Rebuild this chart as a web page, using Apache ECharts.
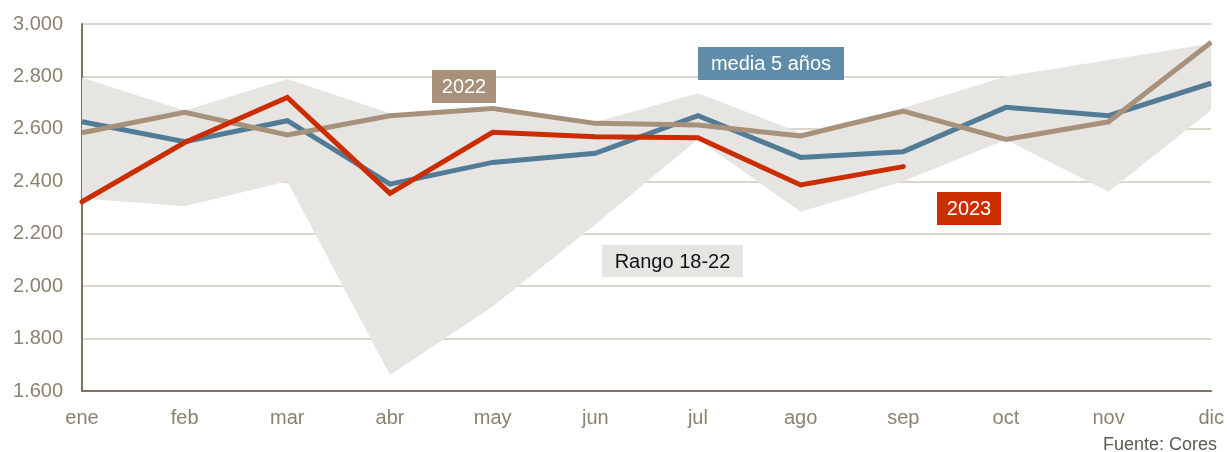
<!DOCTYPE html>
<html>
<head>
<meta charset="utf-8">
<script src="https://cdn.jsdelivr.net/npm/echarts@6/dist/echarts.min.js"></script>
<style>
html,body{margin:0;padding:0;background:#fff;}
#chart{width:1227px;height:452px;}
</style>
</head>
<body>
<div id="chart"></div>
<script>
const months = ['ene','feb','mar','abr','may','jun','jul','ago','sep','oct','nov','dic'];
const rangoMax = [2795,2670,2790,2660,2665,2625,2736,2585,2680,2800,2863,2926];
const rangoMin = [2334,2305,2400,1661,1922,2235,2560,2284,2400,2558,2360,2672];
const media5 = [2627,2551,2631,2389,2472,2507,2650,2491,2513,2682,2650,2774];
const y2022 = [2585,2663,2577,2650,2678,2621,2615,2573,2668,2560,2627,2930];
const y2023 = [2322,2548,2720,2354,2587,2570,2566,2386,2456];
const yTicks = [1600,1800,2000,2200,2400,2600,2800,3000];

const FONT = '"Liberation Sans", Arial, sans-serif';
const bandDiff = rangoMax.map((v,i)=>v-rangoMin[i]);
const fmt = v => String(v).replace(/\B(?=(\d{3})+(?!\d))/g,'.');

function box(x,y,w,h,fill,txt,color){
  return {type:'group', left:x, top:y, z:100, children:[
    {type:'rect', z:100, shape:{x:0,y:0,width:w,height:h}, style:{fill:fill}},
    {type:'text', z:101, x:w/2, y:h/2+1, style:{text:txt, fill:color, font:'20px '+FONT, textAlign:'center', textVerticalAlign:'middle'}}
  ]};
}

const chart = echarts.init(document.getElementById('chart'), null, {renderer:'canvas'});
chart.setOption({
  animation:false,
  textStyle:{fontFamily:FONT},
  grid:{left:82, right:14, top:24, bottom:61, containLabel:false},
  xAxis:{
    type:'category', data:months, boundaryGap:false,
    axisLine:{lineStyle:{color:'#7d7562', width:2}},
    axisTick:{show:false},
    axisLabel:{color:'#8c8270', fontSize:20, margin:17, fontFamily:FONT},
    splitLine:{show:false}
  },
  yAxis:{
    type:'value', min:yTicks[0], max:yTicks[yTicks.length-1], interval:200,
    axisLine:{show:true, lineStyle:{color:'#7d7562', width:2}},
    axisTick:{show:false},
    axisLabel:{color:'#8c8270', fontSize:20, margin:19, fontFamily:FONT, formatter:fmt},
    splitLine:{lineStyle:{color:'#cfc7bb', width:1.5}}
  },
  series:[
    {name:'min', type:'line', data:rangoMin, stack:'band', symbol:'none', lineStyle:{opacity:0}, silent:true},
    {name:'Rango 18-22', type:'line', data:bandDiff, stack:'band', symbol:'none', lineStyle:{opacity:0}, areaStyle:{color:'#e6e5e1', opacity:1}, silent:true},
    {name:'media 5 años', type:'line', data:media5, symbol:'none', lineStyle:{color:'#527b95', width:5, join:'miter'}},
    {name:'2022', type:'line', data:y2022, symbol:'none', lineStyle:{color:'#a8917a', width:5, join:'miter'}},
    {name:'2023', type:'line', data:y2023, symbol:'none', lineStyle:{color:'#cc2d00', width:5, join:'miter', cap:'round'}}
  ],
  graphic:[
    box(432,70,64,33,'#a8907a','2022','#ffffff'),
    box(698,47,146,33,'#5f8ca8','media 5 años','#ffffff'),
    box(602,245,141,32,'#e6e5e1','Rango 18-22','#111111'),
    box(937,192,64,33,'#cc2e00','2023','#ffffff'),
    {type:'text', right:10, top:436, z:100, style:{text:'Fuente: Cores', fill:'#5d5a50', font:'18px '+FONT}}
  ]
});
</script>
</body>
</html>
